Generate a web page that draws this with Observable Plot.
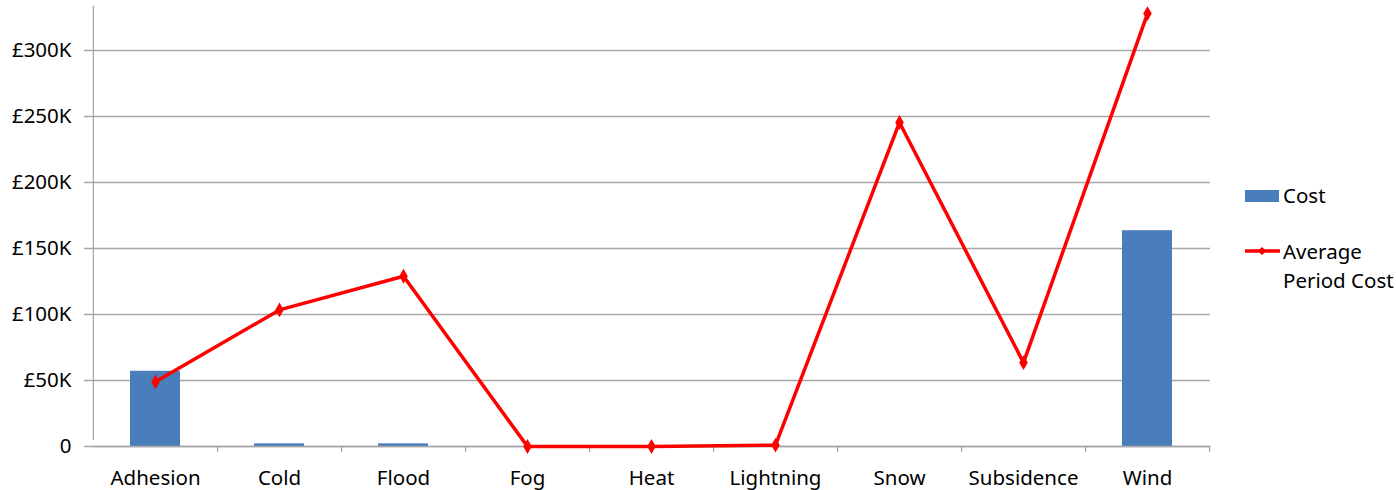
<!DOCTYPE html>
<html>
<head>
<meta charset="utf-8">
<script src="https://cdn.jsdelivr.net/npm/d3@7"></script>
<script src="https://cdn.jsdelivr.net/npm/@observablehq/plot@0.6"></script>
<style>
  body { margin: 0; background: #fff; font-family: "Noto Sans", sans-serif; }
  #wrap { position: relative; width: 1396px; height: 490px; }
  #legend { position: absolute; left: 1245px; top: 180px; font-size: 20.5px; color: #000; }
  .row { display: flex; align-items: flex-start; }
  .sw { width: 35px; flex: none; }
  .lbl { line-height: 29px; }
</style>
</head>
<body>
<div id="wrap">
  <div id="chart"></div>
  <div id="legend">
    <div class="row" style="margin-top:1px">
      <div class="sw" style="height:29px;position:relative"><div style="position:absolute;left:0;top:9px;width:34px;height:12px;background:#4a7ebb"></div></div>
      <div class="lbl" style="margin-left:3px">Cost</div>
    </div>
    <div class="row" style="margin-top:27px">
      <div class="sw" style="height:29px;position:relative">
        <svg width="36" height="29" style="position:absolute;left:0;top:0"><line x1="0" y1="14" x2="35" y2="14" stroke="#ff0000" stroke-width="3.5"/><path d="M17,10 L21.5,14 L17,18 L12.5,14Z" fill="#ff0000"/></svg>
      </div>
      <div class="lbl" style="margin-left:3px">Average<br>Period Cost</div>
    </div>
  </div>
</div>
<script>
const categories = ["Adhesion","Cold","Flood","Fog","Heat","Lightning","Snow","Subsidence","Wind"];
const cost = [57000, 2000, 2000, 0, 0, 0, 0, 0, 163500];
const avgPeriodCost = [49000, 103500, 129000, 0, 0, 1000, 245500, 63500, 328000];
const yTicks = [0, 50000, 100000, 150000, 200000, 250000, 300000];
const yTickLabels = ["0", "£50K", "£100K", "£150K", "£200K", "£250K", "£300K"];

const data = categories.map((c, i) => ({cat: c, cost: cost[i], avg: avgPeriodCost[i]}));

const W = 1396, H = 490, ML = 92, MR = 186, MT = 0, MB = 44;
const step = (W - ML - MR) / categories.length;
const grid = "#a6a6a6";
const yMax = 337900;

const chart = Plot.plot({
  width: W, height: H,
  marginLeft: ML, marginRight: MR, marginTop: MT, marginBottom: MB,
  style: {fontFamily: "Noto Sans, sans-serif", fontSize: "20.5px", color: "#000", background: "#fff"},
  x: {type: "band", domain: categories, paddingInner: 0.6, paddingOuter: 0.3, label: null},
  y: {type: "linear", domain: [0, yMax], label: null},
  marks: [
    Plot.ruleY(yTicks, {y: d => d, stroke: grid, strokeWidth: 1.3, insetLeft: -8}),
    Plot.axisY(yTicks, {tickFormat: (d) => yTickLabels[yTicks.indexOf(d)], tickSize: 0, tickPadding: 21, fontSize: 20.5, label: null}),
    Plot.axisX({tickSize: 0, tickPadding: 24, fontSize: 20.5, label: null}),
    Plot.ruleX([categories[0]], {x: d => d, dx: -step / 2, y1: 0, y2: yMax, insetBottom: -6, insetTop: -6, stroke: grid, strokeWidth: 1.3}),
    Plot.ruleX(categories, {x: d => d, dx: step / 2, y1: 0, y2: 0, insetBottom: -6, stroke: grid, strokeWidth: 1.3}),
    Plot.barY(data, {x: "cat", y: "cost", fill: "#4a7ebb"}),
    Plot.ruleY([0], {stroke: grid, strokeWidth: 1.3}),
    Plot.line(data, {x: "cat", y: "avg", stroke: "#ff0000", strokeWidth: 3.5}),
    Plot.dot(data, {x: "cat", y: "avg", symbol: "diamond", fill: "#ff0000", r: 4.5})
  ]
});
document.getElementById("chart").appendChild(chart);
</script>
</body>
</html>
